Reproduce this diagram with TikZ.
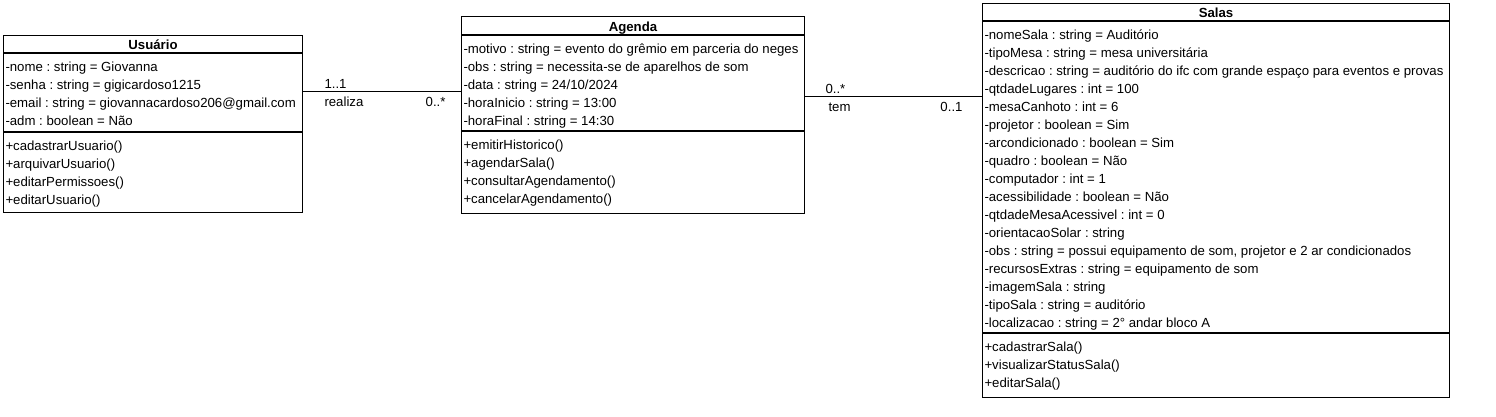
\documentclass[tikz,border=0pt]{standalone}
\usepackage{fontspec}
\setmainfont{Liberation Sans}
\frenchspacing
\usetikzlibrary{%
  positioning% below=of
}

\begin{document}
\begin{tikzpicture}[
    x=1pt,y=-1pt,
    line width=1pt,line join=miter,
    font=\fontsize{13.2}{16}\selectfont,
    classname/.style={rectangle,draw,anchor=north west,inner sep=0pt,
        font=\fontsize{13.2}{16}\selectfont\bfseries,
        text height=11pt,text depth=0pt},
    compartment/.style={rectangle,draw,inner sep=0pt},
    member/.style={anchor=base west,inner sep=0pt},
    mult/.style={inner sep=0pt},
    node distance=0pt
  ]
    \useasboundingbox (0,0) rectangle (1496,416);

    % Usuario
    \node (usuario) [classname,minimum width=299pt,minimum height=17pt] at (3,35) {Usuário};
    \node (usuario attrs) [compartment,minimum width=299pt,minimum height=78pt,below=of usuario] {};
    \node (usuario ops) [compartment,minimum width=299pt,minimum height=80pt,below=of usuario attrs] {};
    \foreach \m [count=\i from 0] in {-nome : string = Giovanna,
        -senha : string = gigicardoso1215,
        -email : string = giovannacardoso206@gmail.com,
        -adm : boolean = Não}
      \node (usuario a\i) [member] at ([shift={(2,{18+18*\i})}]usuario attrs.north west) {\m};
    \foreach \m [count=\i from 0] in {+cadastrarUsuario(),+arquivarUsuario(),
        +editarPermissoes(),+editarUsuario()}
      \node (usuario o\i) [member] at ([shift={(2,{18+18*\i})}]usuario ops.north west) {\m};

    % Agenda
    \node (agenda) [classname,minimum width=343pt,minimum height=18pt] at (461,16) {Agenda};
    \node (agenda attrs) [compartment,minimum width=343pt,minimum height=95pt,below=of agenda] {};
    \node (agenda ops) [compartment,minimum width=343pt,minimum height=82pt,below=of agenda attrs] {};
    \foreach \m [count=\i from 0] in {-motivo : string = evento do grêmio em parceria do neges,
        -obs : string = necessita-se de aparelhos de som,
        -data : string = 24/10/2024,
        -horaInicio : string = 13:00,
        -horaFinal : string = 14:30}
      \node (agenda a\i) [member] at ([shift={(2,{18+18*\i})}]agenda attrs.north west) {\m};
    \foreach \m [count=\i from 0] in {+emitirHistorico(),+agendarSala(),
        +consultarAgendamento(),+cancelarAgendamento()}
      \node (agenda o\i) [member] at ([shift={(2,{18+18*\i})}]agenda ops.north west) {\m};

    % Salas
    \node (salas) [classname,minimum width=467pt,minimum height=17pt] at (982,3) {Salas};
    \node (salas attrs) [compartment,minimum width=467pt,minimum height=311pt,below=of salas] {};
    \node (salas ops) [compartment,minimum width=467pt,minimum height=64pt,below=of salas attrs] {};
    \foreach \m [count=\i from 0] in {-nomeSala : string = Auditório,
        -tipoMesa : string = mesa universitária,
        -descricao : string = auditório do ifc com grande espaço para eventos e provas,
        -qtdadeLugares : int = 100,
        -mesaCanhoto : int = 6,
        -projetor : boolean = Sim,
        -arcondicionado : boolean = Sim,
        -quadro : boolean = Não,
        -computador : int = 1,
        -acessibilidade : boolean = Não,
        -qtdadeMesaAcessivel : int = 0,
        -orientacaoSolar : string,
        {-obs : string = possui equipamento de som, projetor e 2 ar condicionados},
        -recursosExtras : string = equipamento de som,
        -imagemSala : string,
        -tipoSala : string = auditório,
        -localizacao : string = 2° andar bloco A}
      \node (salas a\i) [member] at ([shift={(2,{18+18*\i})}]salas attrs.north west) {\m};
    \foreach \m [count=\i from 0] in {+cadastrarSala(),+visualizarStatusSala(),+editarSala()}
      \node (salas o\i) [member] at ([shift={(2,{18+18*\i})}]salas ops.north west) {\m};

    % Assoziationen
    \coordinate (realiza line) at (0,91);
    \coordinate (tem line) at (0,96);
    \draw (usuario attrs.east |- realiza line) -- (agenda attrs.west |- realiza line)
        node (realiza m1) [mult,pos=0,anchor=base west,xshift=21pt,yshift=3pt] {1..1}
        node (realiza)    [mult,pos=0,anchor=base west,xshift=21pt,yshift=-15pt] {realiza}
        node (realiza m2) [mult,pos=1,anchor=base east,xshift=-15pt,yshift=-15pt] {0..*};
    \draw (agenda attrs.east |- tem line) -- (salas attrs.west |- tem line)
        node (tem m1) [mult,pos=0,anchor=base west,xshift=20pt,yshift=3pt] {0..*}
        node (tem)    [mult,pos=0,anchor=base west,xshift=23pt,yshift=-15pt] {tem}
        node (tem m2) [mult,pos=1,anchor=base east,xshift=-19pt,yshift=-15pt] {0..1};
\end{tikzpicture}
\end{document}
